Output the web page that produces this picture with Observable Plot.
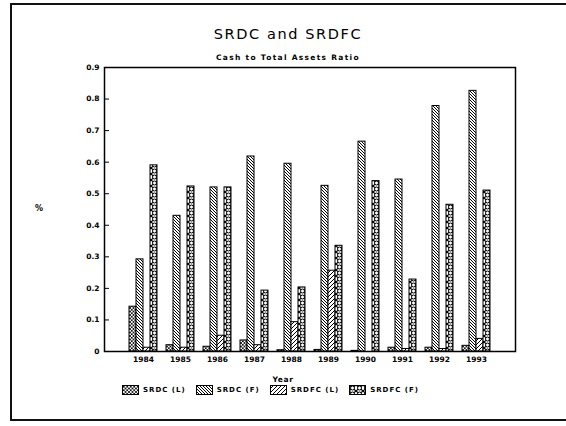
<!DOCTYPE html>
<html>
<head>
<meta charset="utf-8">
<script src="https://cdn.jsdelivr.net/npm/d3@7"></script>
<script src="https://cdn.jsdelivr.net/npm/@observablehq/plot@0.6"></script>
<style>
  html, body { margin: 0; padding: 0; background: #fff; }
  #wrap { position: relative; width: 566px; height: 426px; overflow: hidden; background: #fff; font-family: "DejaVu Sans", sans-serif; color: #000; }
  #border { position: absolute; left: 10px; top: 3px; width: 600px; height: 418px; border: 2px solid #111; box-sizing: border-box; }
  #title { position: absolute; left: 0; width: 576px; top: 26px; text-align: center; font-size: 14.5px; letter-spacing: 1.6px; }
  #subtitle { position: absolute; left: 0; width: 576px; top: 53px; text-align: center; font-size: 7.5px; font-weight: bold; letter-spacing: 1.3px; }
  #ylabel { position: absolute; left: 35px; top: 204px; font-size: 8px; font-weight: bold; color: #000; }
  #xlabel { position: absolute; left: 0; width: 566px; top: 375px; text-align: center; font-size: 7.5px; font-weight: bold; letter-spacing: 0.6px; }
  #legend { position: absolute; left: 122px; top: 385px; display: flex; gap: 10px; align-items: center; font-size: 7px; font-weight: bold; letter-spacing: 1px; }
  #legend .item { display: flex; align-items: center; gap: 4px; }
  #chart { position: absolute; left: 0; top: 0; }
</style>
</head>
<body>
<svg width="0" height="0" style="position:absolute">
  <defs>
    <pattern id="p0" patternUnits="userSpaceOnUse" width="3.5" height="3.5">
      <rect width="3.5" height="3.5" fill="#fff"/>
      <path d="M0,0L3.5,3.5M3.5,0L0,3.5" stroke="#000" stroke-width="0.8"/>
    </pattern>
    <pattern id="p1" patternUnits="userSpaceOnUse" width="3" height="3">
      <rect width="3" height="3" fill="#fff"/>
      <path d="M-1,-1L4,4M-1,2L1,4M2,-1L4,1" stroke="#000" stroke-width="1"/>
    </pattern>
    <pattern id="p2" patternUnits="userSpaceOnUse" width="4" height="4">
      <rect width="4" height="4" fill="#fff"/>
      <path d="M-1,5L5,-1M-1,1L1,-1M3,5L5,3" stroke="#000" stroke-width="1"/>
    </pattern>
    <pattern id="p3" patternUnits="userSpaceOnUse" width="7" height="6">
      <rect width="7" height="6" fill="#fff"/>
      <path d="M0,0L7,6M7,0L0,6" stroke="#000" stroke-width="1.2"/>
      <circle cx="3.5" cy="3" r="2" fill="#fff" stroke="#000" stroke-width="1"/>
    </pattern>
  </defs>
</svg>
<div id="wrap">
  <div id="border"></div>
  <div id="chart"></div>
  <div id="title">SRDC and SRDFC</div>
  <div id="subtitle">Cash to Total Assets Ratio</div>
  <div id="ylabel">%</div>
  <div id="xlabel">Year</div>
  <div id="legend"></div>
</div>
<script>
const years = ["1984","1985","1986","1987","1988","1989","1990","1991","1992","1993"];
const seriesNames = ["SRDC (L)", "SRDC (F)", "SRDFC (L)", "SRDFC (F)"];
const srdcL  = [0.142, 0.020, 0.015, 0.035, 0.004, 0.005, 0.002, 0.012, 0.012, 0.018];
const srdcF  = [0.292, 0.430, 0.520, 0.618, 0.595, 0.525, 0.665, 0.545, 0.778, 0.826];
const srdfcL = [0.012, 0.012, 0.050, 0.020, 0.093, 0.256, 0.000, 0.008, 0.008, 0.040];
const srdfcF = [0.590, 0.523, 0.520, 0.193, 0.203, 0.335, 0.540, 0.228, 0.465, 0.510];
const yTicks = [0, 0.1, 0.2, 0.3, 0.4, 0.5, 0.6, 0.7, 0.8, 0.9];
const patterns = ["url(#p0)", "url(#p1)", "url(#p2)", "url(#p3)"];

const seriesValues = [srdcL, srdcF, srdfcL, srdfcF];
const data = [];
years.forEach((yr, i) => {
  seriesNames.forEach((s, j) => data.push({year: yr, series: s, value: seriesValues[j][i]}));
});

const chart = Plot.plot({
  width: 566,
  height: 372,
  marginTop: 67,
  marginBottom: 21,
  marginLeft: 125,
  marginRight: 71,
  style: {background: "transparent", color: "#000", fontFamily: "DejaVu Sans, sans-serif"},
  fx: {domain: years, paddingInner: 0.24, paddingOuter: 0, label: null},
  x: {domain: seriesNames, axis: null, padding: 0},
  y: {domain: [0, 0.9], label: null},
  color: {domain: seriesNames, range: patterns},
  marks: [
    Plot.barY(data, {fx: "year", x: "series", y: "value", fill: "series", stroke: "#000", strokeWidth: 1}),
    Plot.axisY({ticks: yTicks, dx: -25, tickSize: -5, tickPadding: 10, tickFormat: d => d === 0 ? "0" : d3.format(".1f")(d), fontSize: 7.5, fontWeight: "bold", label: null}),
    Plot.axisFx({anchor: "bottom", tickSize: 0, tickPadding: 5, fontSize: 7.5, fontWeight: "bold", label: null}),
    Plot.frame({facet: "super", insetLeft: -25, insetRight: -25, stroke: "#000", strokeWidth: 1.5})
  ]
});
document.getElementById("chart").appendChild(chart);

const legend = d3.select("#legend");
seriesNames.forEach((s, j) => {
  const item = legend.append("div").attr("class", "item");
  const sw = item.append("svg").attr("width", 17).attr("height", 10);
  sw.append("rect").attr("x", 0.5).attr("y", 0.5).attr("width", 16).attr("height", 9)
    .attr("fill", patterns[j]).attr("stroke", "#000").attr("stroke-width", 1);
  item.append("span").text(s);
});
</script>
</body>
</html>
